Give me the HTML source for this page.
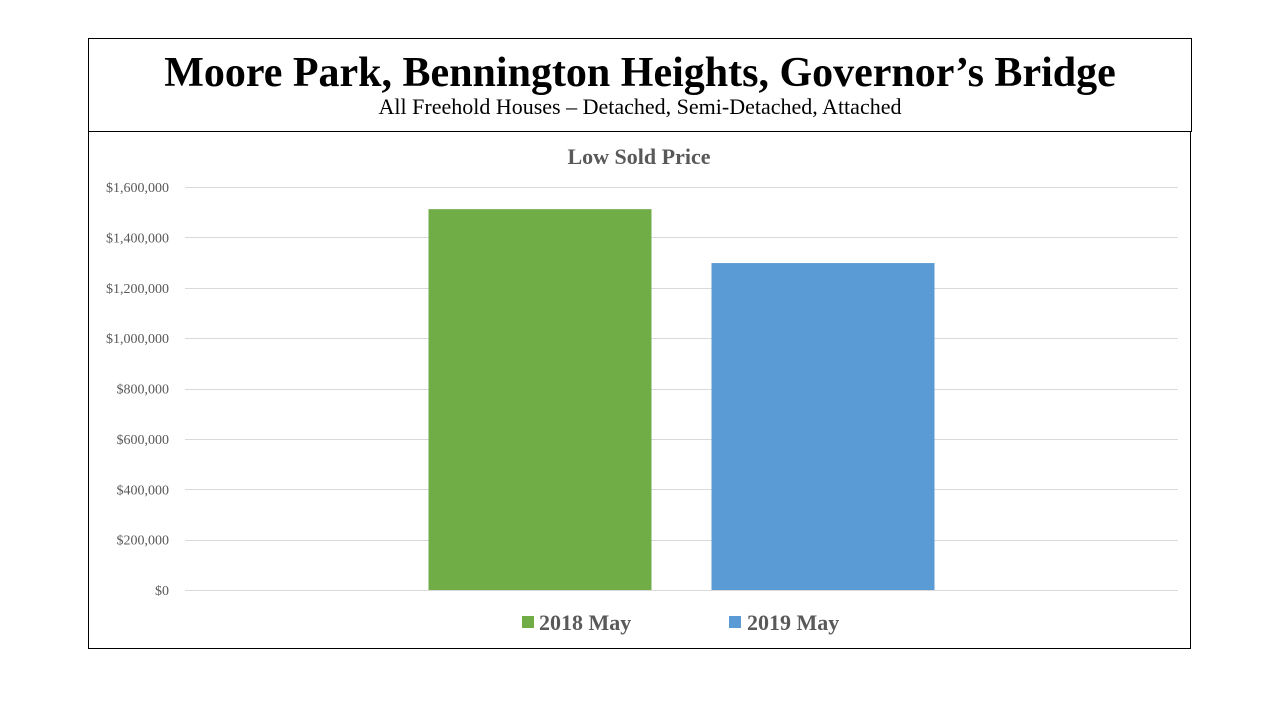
<!DOCTYPE html>
<html><head><meta charset="utf-8"><style>
body{margin:0;background:#fff;}
svg{display:block;font-family:"Liberation Serif",serif;}
</style></head><body>
<svg width="1280" height="720">
<rect x="88.5" y="38.5" width="1103" height="93" fill="none" stroke="#000"/>
<rect x="88.5" y="131.5" width="1102" height="517" fill="none" stroke="#000"/>
<text x="640" y="86" text-anchor="middle" font-size="42" font-weight="bold">Moore Park, Bennington Heights, Governor’s Bridge</text>
<text x="640" y="114" text-anchor="middle" font-size="22">All Freehold Houses – Detached, Semi-Detached, Attached</text>
<text x="639" y="164" text-anchor="middle" font-size="22" font-weight="bold" fill="#595959">Low Sold Price</text>
<g id="grid"></g><g id="bars"></g>
<g>
<rect x="522" y="616" width="12" height="12" fill="#70ad47"/>
<text x="539" y="630" font-size="22" font-weight="bold" fill="#595959">2018 May</text>
<rect x="729" y="616" width="12" height="12" fill="#5b9bd5"/>
<text x="747" y="630" font-size="22" font-weight="bold" fill="#595959">2019 May</text>
</g>
</svg>
<script>
const seriesNames=["2018 May","2019 May"];
const seriesValues=[1512000,1298000];
const tickValues=[0,200000,400000,600000,800000,1000000,1200000,1400000,1600000];
const tickLabels=["$0","$200,000","$400,000","$600,000","$800,000","$1,000,000","$1,200,000","$1,400,000","$1,600,000"];
const colors=["#70ad47","#5b9bd5"];
const NS="http://www.w3.org/2000/svg";
const y0=590,y1=187,vmax=1600000,xL=185,xR=1178;
function y(v){return y0-(v/vmax)*(y0-y1);}
const grid=document.getElementById('grid');
tickValues.forEach((t,i)=>{
 const l=document.createElementNS(NS,'line');
 l.setAttribute('x1',xL);l.setAttribute('x2',xR);
 l.setAttribute('y1',Math.round(y(t))+0.5);l.setAttribute('y2',Math.round(y(t))+0.5);
 l.setAttribute('stroke','#d9d9d9');
 
 
 grid.appendChild(l);
 const tx=document.createElementNS(NS,'text');
 tx.setAttribute('x',169);tx.setAttribute('y',y(t)+5);
 tx.setAttribute('text-anchor','end');tx.setAttribute('font-size','14');tx.setAttribute('fill','#595959');
 tx.textContent=tickLabels[i];
 
 
 grid.appendChild(tx);
});
const bars=document.getElementById('bars');
const bw=223,gap=60,center=(xL+xR)/2;
const start=center-(seriesValues.length*bw+(seriesValues.length-1)*gap)/2;
seriesValues.forEach((v,i)=>{
 const r=document.createElementNS(NS,'rect');
 r.setAttribute('x',start+i*(bw+gap));r.setAttribute('width',bw);
 r.setAttribute('y',y(v));r.setAttribute('height',y0-y(v));
 r.setAttribute('fill',colors[i]);
 
 
 bars.appendChild(r);
});
</script>
</body></html>
